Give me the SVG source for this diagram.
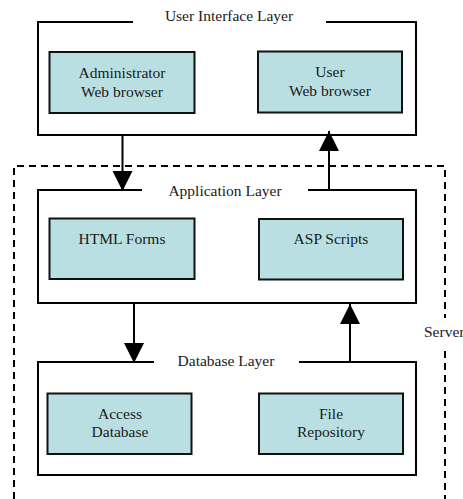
<svg xmlns="http://www.w3.org/2000/svg" width="463" height="499" viewBox="0 0 463 499" font-family="'Liberation Serif', 'Times New Roman', serif">
<style>
text{font-family:"Liberation Serif","Times New Roman",serif;font-size:15.5px;fill:#1a1a1a;text-anchor:middle}
.layer{fill:none;stroke:#000;stroke-width:2}
.box{fill:#b9dfe2;stroke:#111;stroke-width:2}
.dash{fill:none;stroke:#000;stroke-width:2;stroke-dasharray:7 5}
.conn{stroke:#000;stroke-width:2;fill:none}
</style>
<defs>
<marker id="ah" viewBox="0 0 20 20" markerWidth="20" markerHeight="20" refX="20" refY="10" orient="auto" markerUnits="userSpaceOnUse">
<path d="M0,0 L20,10 L0,20 Z" fill="#000"/>
</marker>
</defs>
<g id="server">
<path class="dash" d="M14,499 L14,166 L445,166 L445,318"/>
<path class="dash" d="M445,351 L445,499"/>
<text x="424" y="337" style="text-anchor:start">Server</text>
</g>
<g id="ui-layer">
<path class="layer" d="M133,22 L38,22 L38,135 L416,135 L416,22 L326,22"/>
<text x="229" y="21">User Interface Layer</text>
</g>
<g id="admin-browser">
<rect class="box" x="49.5" y="52" width="145" height="61"/>
<text x="122" y="78">Administrator</text>
<text x="122" y="97">Web browser</text>
</g>
<g id="user-browser">
<rect class="box" x="258" y="51.5" width="144" height="61"/>
<text x="330" y="77">User</text>
<text x="330" y="96">Web browser</text>
</g>
<g id="app-layer">
<path class="layer" d="M142,190 L38,190 L38,303 L416,303 L416,190 L308,190"/>
<text x="225" y="196">Application Layer</text>
</g>
<g id="html-forms">
<rect class="box" x="49.5" y="218.5" width="145" height="60.5"/>
<text x="122" y="244">HTML Forms</text>
</g>
<g id="asp-scripts">
<rect class="box" x="259" y="219" width="144" height="60.5"/>
<text x="331" y="244">ASP Scripts</text>
</g>
<g id="db-layer">
<path class="layer" d="M154,362 L38,362 L38,475 L416,475 L416,362 L299,362"/>
<text x="226" y="366">Database Layer</text>
</g>
<g id="access-db">
<rect class="box" x="47.5" y="393.5" width="144" height="60.5"/>
<text x="120" y="419">Access</text>
<text x="120" y="437">Database</text>
</g>
<g id="file-repo">
<rect class="box" x="259" y="393.5" width="144" height="60.5"/>
<text x="331" y="419">File</text>
<text x="331" y="437">Repository</text>
</g>
<g id="connectors">
<line class="conn" x1="122.5" y1="135" x2="122.5" y2="191" marker-end="url(#ah)"/>
<line class="conn" x1="329" y1="190" x2="329" y2="131" marker-end="url(#ah)"/>
<line class="conn" x1="134" y1="303" x2="134" y2="363" marker-end="url(#ah)"/>
<line class="conn" x1="350" y1="362" x2="350" y2="304" marker-end="url(#ah)"/>
</g>
</svg>
